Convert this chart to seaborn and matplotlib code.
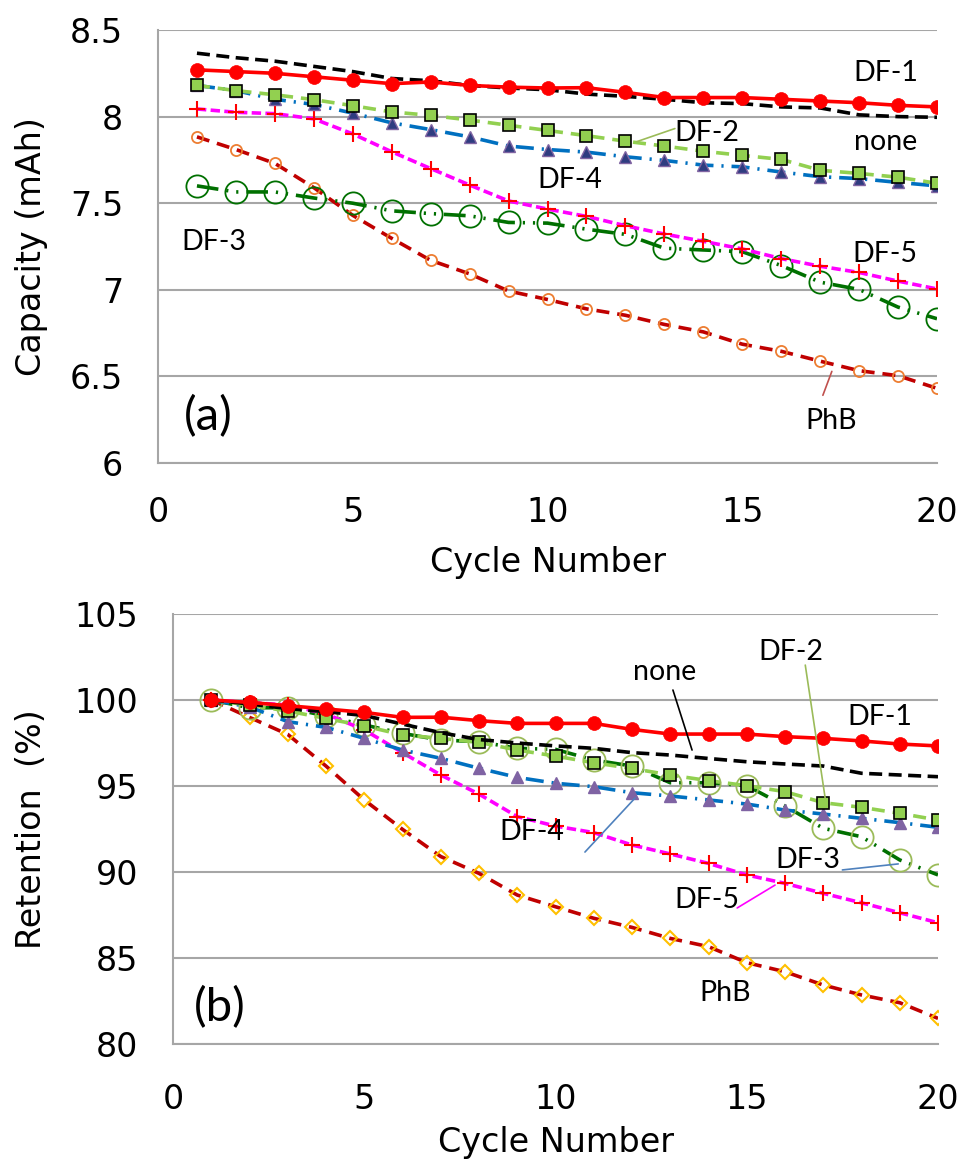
import numpy as np
import pandas as pd
import matplotlib
matplotlib.use("Agg")
import matplotlib.pyplot as plt
import seaborn as sns

sns.set_style("white")
plt.rcParams['font.family'] = ['DejaVu Sans']
plt.rcParams['text.color'] = 'black'
plt.rcParams['axes.labelcolor'] = 'black'
plt.rcParams['xtick.color'] = 'black'
plt.rcParams['ytick.color'] = 'black'

# ---------------- data ----------------
cycles = list(range(1, 21))

# (a) capacity, mAh
cap_none = [8.366, 8.34, 8.32, 8.29, 8.26, 8.22, 8.207, 8.18, 8.165, 8.155,
            8.13, 8.117, 8.10, 8.08, 8.075, 8.056, 8.05, 8.01, 8.0, 7.996]
cap_df1 = [8.27, 8.26, 8.25, 8.23, 8.21, 8.19, 8.20, 8.18, 8.17, 8.165,
           8.167, 8.14, 8.11, 8.11, 8.11, 8.10, 8.09, 8.08, 8.065, 8.056]
cap_df2 = [8.18, 8.15, 8.126, 8.098, 8.063, 8.027, 8.007, 7.98, 7.95, 7.92,
           7.89, 7.858, 7.83, 7.80, 7.776, 7.753, 7.69, 7.672, 7.65, 7.615]
cap_df4 = [8.18, 8.15, 8.10, 8.07, 8.02, 7.964, 7.925, 7.883, 7.83, 7.81,
           7.795, 7.768, 7.747, 7.72, 7.71, 7.68, 7.653, 7.642, 7.62, 7.60]
cap_df5 = [8.044, 8.025, 8.017, 7.987, 7.90, 7.797, 7.70, 7.605, 7.513, 7.466,
           7.424, 7.37, 7.322, 7.28, 7.236, 7.18, 7.136, 7.10, 7.05, 7.005]
cap_df3 = [7.60, 7.565, 7.565, 7.53, 7.50, 7.456, 7.44, 7.427, 7.389, 7.385,
           7.35, 7.32, 7.24, 7.23, 7.22, 7.14, 7.044, 7.002, 6.90, 6.833]
cap_phb = [7.883, 7.81, 7.73, 7.59, 7.43, 7.297, 7.17, 7.092, 6.993, 6.944,
           6.89, 6.853, 6.80, 6.757, 6.686, 6.645, 6.588, 6.533, 6.504, 6.431]

# (b) retention, %
ret_none = [100, 99.77, 99.5, 99.32, 99.1, 98.6, 98.1, 97.7, 97.5, 97.33,
            97.19, 96.94, 96.8, 96.6, 96.41, 96.28, 96.16, 95.74, 95.64, 95.54]
ret_df1 = [100, 99.86, 99.67, 99.48, 99.28, 98.99, 99.0, 98.8, 98.64, 98.64,
           98.64, 98.29, 98.02, 98.02, 98.02, 97.87, 97.77, 97.62, 97.44, 97.33]
ret_df2 = [100, 99.7, 99.36, 98.93, 98.49, 97.97, 97.77, 97.54, 97.09, 96.74,
           96.35, 96.02, 95.64, 95.31, 95.02, 94.67, 94.03, 93.76, 93.41, 93.02]
ret_df4 = [100, 99.6, 98.74, 98.41, 97.77, 97.09, 96.61, 96.03, 95.5, 95.16,
           94.96, 94.61, 94.42, 94.19, 93.95, 93.6, 93.37, 93.12, 92.87, 92.6]
ret_df5 = [100, 99.85, 99.71, 99.19, 98.26, 96.94, 95.64, 94.53, 93.22, 92.67,
           92.29, 91.57, 91.05, 90.5, 89.83, 89.34, 88.76, 88.21, 87.63, 87.05]
ret_df3 = [100, 99.55, 99.55, 99.07, 98.55, 98.06, 97.67, 97.58, 97.19, 97.13,
           96.51, 96.16, 95.19, 95.19, 95.02, 93.84, 92.54, 92.05, 90.7, 89.83]
ret_phb = [100, 98.99, 98.0, 96.16, 94.19, 92.48, 90.9, 89.92, 88.66, 87.98,
           87.31, 86.78, 86.14, 85.66, 84.73, 84.2, 83.43, 82.85, 82.4, 81.49]

cap_ticks = [6, 6.5, 7, 7.5, 8, 8.5]
ret_ticks = [80, 85, 90, 95, 100, 105]
x_ticks = [0, 5, 10, 15, 20]

# ---------------- styles ----------------
styles = {
    "PhB":  dict(color="#C00000", lw=2.6, ls=(0, (3.6, 2.2)), zorder=3),
    "DF-3": dict(color="#007000", lw=2.6, ls=(0, (6, 2.2, 0.6, 2.2, 0.6, 2.2)), zorder=3),
    "DF-5": dict(color="#FF00FF", lw=2.6, ls=(0, (2.6, 1.2)), zorder=4),
    "DF-4": dict(color="#0070C0", lw=2.6, ls=(0, (5, 2.2, 0.6, 2.2)), zorder=4),
    "DF-2": dict(color="#92D050", lw=2.6, ls=(0, (3.6, 2.2)), zorder=4),
    "none": dict(color="black", lw=2.6, ls=(0, (3.6, 1.8)), zorder=5),
    "DF-1": dict(color="#FF0000", lw=2.6, ls="-", zorder=6),
}

mk_top = {
    "PhB":  dict(marker="o", markersize=8, markerfacecolor="none", markeredgecolor="#ED7D31", markeredgewidth=1.3),
    "DF-3": dict(marker="o", markersize=16, markerfacecolor="none", markeredgecolor="#007000", markeredgewidth=1.3),
    "DF-5": dict(marker="+", markersize=11, markerfacecolor="none", markeredgecolor="#FF0000", markeredgewidth=1.5),
    "DF-4": dict(marker="^", markersize=9, markerfacecolor="#2F3C80", markeredgecolor="#8064A2", markeredgewidth=1.0),
    "DF-2": dict(marker="s", markersize=8.5, markerfacecolor="#92D050", markeredgecolor="black", markeredgewidth=1.2),
    "none": dict(marker=None),
    "DF-1": dict(marker="o", markersize=10, markerfacecolor="#FF0000", markeredgecolor="#FF0000", markeredgewidth=0.5),
}
mk_bot = dict(mk_top)
mk_bot["PhB"] = dict(marker="D", markersize=7, markerfacecolor="none", markeredgecolor="#FFC000", markeredgewidth=1.5)
mk_bot["DF-3"] = dict(marker="o", markersize=16, markerfacecolor="none", markeredgecolor="#9BBB59", markeredgewidth=1.3)
mk_bot["DF-4"] = dict(marker="^", markersize=9, markerfacecolor="#7F63A3", markeredgecolor="#7F63A3", markeredgewidth=1.0)
mk_bot["DF-2"] = dict(marker="s", markersize=8.5, markerfacecolor="#92D050", markeredgecolor="black", markeredgewidth=1.2)

top_series = {"PhB": cap_phb, "DF-3": cap_df3, "DF-5": cap_df5, "DF-4": cap_df4,
              "DF-2": cap_df2, "none": cap_none, "DF-1": cap_df1}
bot_series = {"PhB": ret_phb, "DF-3": ret_df3, "DF-5": ret_df5, "DF-4": ret_df4,
              "DF-2": ret_df2, "none": ret_none, "DF-1": ret_df1}

W, H = 960, 1162
fig = plt.figure(figsize=(W / 100, H / 100), dpi=100)
ax1 = fig.add_axes([158 / W, 1 - 463 / H, (937 - 158) / W, (463 - 30) / H])
ax2 = fig.add_axes([173 / W, 1 - 1044 / H, (938 - 173) / W, (1044 - 614) / H])

GRID = "#A6A6A6"
TICK_FS = 24
LBL_FS = 24
ANN_FONT = ["Lato", "DejaVu Sans"]
ANN_FS = 20.5


def draw(ax, series, markers):
    for name, vals in series.items():
        df = pd.DataFrame({"cycle": cycles, "v": vals})
        st = styles[name]
        mk = {k: v for k, v in markers[name].items() if v is not None}
        sns.lineplot(data=df, x="cycle", y="v", ax=ax, legend=False,
                     color=st["color"], linewidth=st["lw"], linestyle=st["ls"],
                     zorder=st["zorder"], **mk)


def style_axes(ax, yticks, ylim, ticks_in):
    ax.set_xlim(0, 20)
    ax.set_ylim(*ylim)
    ax.set_xticks(x_ticks)
    ax.set_yticks(yticks)
    ax.set_yticklabels([f"{t:g}" for t in yticks])
    ax.grid(axis="y", color=GRID, lw=1.5)
    ax.grid(axis="x", visible=False)
    for s in ["top", "right"]:
        ax.spines[s].set_visible(False)
    for s in ["left", "bottom"]:
        ax.spines[s].set_color(GRID)
        ax.spines[s].set_linewidth(1.5)
    ax.tick_params(axis="y", length=0, labelsize=TICK_FS, pad=25, labelcolor="black")
    if ticks_in:
        ax.tick_params(axis="x", direction="in", length=8, width=1.2, color=GRID,
                       labelsize=TICK_FS, pad=28, labelcolor="black")
    else:
        ax.tick_params(axis="x", length=0, labelsize=TICK_FS, pad=24, labelcolor="black")


draw(ax1, top_series, mk_top)
draw(ax2, bot_series, mk_bot)
style_axes(ax1, cap_ticks, (6, 8.5), False)
style_axes(ax2, ret_ticks, (80, 105), True)

ax1.set_xlabel("Cycle Number", fontsize=LBL_FS, color="black")
ax1.set_ylabel("Capacity (mAh)", fontsize=LBL_FS, color="black")
ax2.set_xlabel("Cycle Number", fontsize=LBL_FS, color="black")
ax2.set_ylabel("Retention  (%)", fontsize=LBL_FS, color="black")
ax1.xaxis.set_label_coords(0.5, (463 - 546) / 433)
ax2.xaxis.set_label_coords(0.5, (1044 - 1126) / 430)
ax1.yaxis.set_label_coords((48 - 158) / 779, 0.5)
ax2.yaxis.set_label_coords((48 - 173) / 765, 0.5)


def label(ax, x, y, s, fs=ANN_FS):
    ax.text(x, y, s, fontsize=fs, family=ANN_FONT, ha="center", va="center",
            color="black", zorder=10)


def leader(ax, p0, p1, color):
    ax.annotate("", xy=p1, xytext=p0,
                arrowprops=dict(arrowstyle="-", color=color, lw=1.2,
                                shrinkA=0, shrinkB=0), zorder=9)


# panel (a) annotations
label(ax1, 18.69, 8.253, "DF-1")
label(ax1, 18.69, 7.856, "none")
label(ax1, 14.1, 7.905, "DF-2")
leader(ax1, (13.27, 7.931), (12.3, 7.856), "#9BBB59")
label(ax1, 10.58, 7.632, "DF-4")
label(ax1, 18.66, 7.207, "DF-5")
label(ax1, 1.44, 7.276, "DF-3")
label(ax1, 17.28, 6.241, "PhB")
leader(ax1, (17.07, 6.391), (17.3, 6.529), "#C0504D")
label(ax1, 1.28, 6.27, "(a)", fs=34)

# panel (b) annotations
label(ax2, 12.86, 101.63, "none")
leader(ax2, (13.07, 100.58), (13.57, 97.09), "black")
label(ax2, 16.16, 102.79, "DF-2")
leader(ax2, (16.53, 102.03), (17.05, 94.30), "#9BBB59")
label(ax2, 18.49, 99.01, "DF-1")
label(ax2, 9.38, 92.33, "DF-4")
leader(ax2, (10.77, 91.16), (12.08, 94.3), "#4F81BD")
label(ax2, 16.6, 90.7, "DF-3")
leader(ax2, (17.5, 90.12), (18.96, 90.47), "#4F81BD")
label(ax2, 13.96, 88.37, "DF-5")
leader(ax2, (14.75, 87.91), (15.74, 89.24), "#FF00FF")
label(ax2, 14.43, 82.97, "PhB")
label(ax2, 1.21, 82.09, "(b)", fs=34)

fig.savefig("out.png", dpi=100)
